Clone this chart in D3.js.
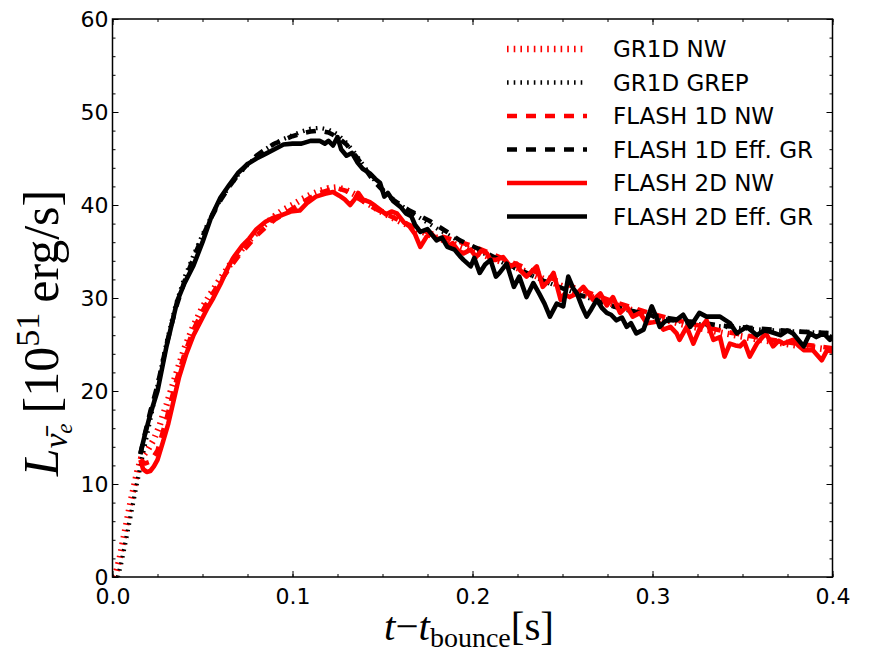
<!DOCTYPE html>
<html>
<head>
<meta charset="utf-8">
<script src="https://cdn.jsdelivr.net/npm/d3@7"></script>
<style>
body { margin: 0; background: #fff; }
svg { display: block; }
</style>
</head>
<body>
<div id="chart"></div>
<script>
// luminosity curves, [t - t_bounce (s), L (10^51 erg/s)]
var gr1dNW = [[0.001,0],[0.002,0.5],[0.004,2],[0.006,4],[0.008,6],[0.010,8],[0.012,9.8],[0.014,11.5],[0.016,12.8],[0.018,13.3],[0.020,13.8],[0.023,14.8],[0.026,16.2],[0.030,18.5],[0.035,21.6],[0.040,24.6],[0.045,27],[0.050,29],[0.055,30.6],[0.060,32.1],[0.065,33.5],[0.070,34.8],[0.075,36],[0.080,37],[0.085,38],[0.090,38.8],[0.095,39.5],[0.100,40],[0.105,40.6],[0.110,41.1],[0.115,41.5],[0.120,41.8],[0.125,41.9],[0.130,41.6],[0.135,41.1],[0.140,40.4],[0.145,39.8],[0.150,39.2],[0.160,38.2],[0.170,37.3],[0.180,36.5],[0.190,35.8],[0.200,35.1],[0.220,33.6],[0.240,32],[0.260,30.5],[0.280,29.2],[0.300,28],[0.320,27],[0.340,26.2],[0.360,25.5],[0.380,24.9],[0.400,24.4]];

var gr1dGREP = [[0.003,0],[0.005,1.6],[0.007,3.5],[0.009,5.5],[0.011,7.5],[0.013,9.5],[0.015,11.4],[0.017,13.3],[0.020,16],[0.025,20.6],[0.030,25.2],[0.035,29.2],[0.040,32.2],[0.045,34.6],[0.050,36.8],[0.055,38.8],[0.060,40.6],[0.065,42],[0.070,43.3],[0.075,44.3],[0.080,45.2],[0.085,46],[0.090,46.6],[0.095,47.1],[0.100,47.5],[0.105,47.9],[0.110,48.2],[0.115,48.3],[0.120,48.1],[0.125,47.6],[0.130,46.7],[0.135,45.5],[0.140,44.1],[0.145,42.8],[0.150,41.7],[0.155,40.8],[0.160,40],[0.170,38.7],[0.180,37.5],[0.190,36.4],[0.200,35.4],[0.220,33.5],[0.240,31.8],[0.260,30.3],[0.280,29],[0.300,28],[0.320,27.3],[0.340,26.9],[0.360,26.6],[0.380,26.4],[0.400,26.2]];

var flash1dNW = [[0.0155,12.6],[0.018,12.2],[0.021,12.4],[0.025,13.6],[0.030,17],[0.035,20.8],[0.040,24],[0.045,26.6],[0.050,28.6],[0.055,30.3],[0.060,31.8],[0.065,33.2],[0.070,34.5],[0.075,35.6],[0.080,36.7],[0.085,37.6],[0.090,38.4],[0.095,39],[0.100,39.6],[0.105,40.2],[0.110,40.8],[0.115,41.3],[0.120,41.6],[0.125,41.8],[0.130,41.5],[0.135,40.9],[0.140,40.3],[0.145,39.7],[0.150,39.2],[0.160,38.3],[0.170,37.4],[0.180,36.8],[0.190,36.2],[0.200,35.6],[0.210,34.8],[0.220,34],[0.240,32.4],[0.260,30.9],[0.280,29.5],[0.300,28.3],[0.320,27.3],[0.340,26.4],[0.360,25.7],[0.380,25.1],[0.400,24.6]];

var flash1dGR = [[0.0155,13.2],[0.018,15.4],[0.021,17.8],[0.025,20.6],[0.030,25],[0.035,28.8],[0.040,31.8],[0.045,34.3],[0.050,36.6],[0.055,38.7],[0.060,40.5],[0.065,42],[0.070,43.3],[0.075,44.4],[0.080,45.3],[0.085,46],[0.090,46.6],[0.095,47],[0.100,47.4],[0.105,47.7],[0.110,47.9],[0.115,48],[0.120,47.8],[0.125,47.3],[0.130,46.5],[0.135,45.3],[0.140,44],[0.145,42.6],[0.150,41.6],[0.155,40.7],[0.160,40],[0.165,39.4],[0.170,38.9],[0.176,38.3],[0.186,37.1],[0.193,36.2],[0.202,35.4],[0.210,34.6],[0.220,33.6],[0.240,31.8],[0.260,30.3],[0.280,29],[0.300,28.1],[0.320,27.5],[0.340,27],[0.360,26.7],[0.380,26.4],[0.400,26.2]];

var flash2dNW = [[0.0155,12.6],[0.017,11.6],[0.019,11.3],[0.021,11.4],[0.023,11.9],[0.025,12.6],[0.028,14.5],[0.031,16.5],[0.034,19],[0.037,21.5],[0.041,24],[0.045,26],[0.049,27.5],[0.053,29],[0.056,30],[0.060,31.5],[0.064,33.2],[0.067,34.3],[0.072,35.6],[0.076,36.4],[0.080,37.4],[0.085,38.2],[0.089,38.6],[0.094,38.9],[0.099,39.3],[0.104,39.4],[0.108,40.2],[0.113,40.9],[0.118,41.2],[0.1225,41.4],[0.126,41.0],[0.129,40.6],[0.132,40.0],[0.1345,40.6],[0.1365,41.3],[0.139,40.6],[0.143,40.3],[0.146,39.9],[0.1486,39.5],[0.152,39.0],[0.155,39.3],[0.158,39.1],[0.162,38.1],[0.165,37.7],[0.168,36.9],[0.171,35.5],[0.1745,36.6],[0.177,36.9],[0.180,36.4],[0.184,36.3],[0.187,35.6],[0.189,35.9],[0.192,35.1],[0.195,34.8],[0.199,35.2],[0.202,34.4],[0.205,35.1],[0.208,34.8],[0.210,34.1],[0.213,34.1],[0.217,34.4],[0.221,33.4],[0.2245,33.7],[0.2264,33.0],[0.230,32.3],[0.2357,33.4],[0.239,31.2],[0.242,31.8],[0.245,32.7],[0.249,29.8],[0.251,30.4],[0.254,30.1],[0.258,30.5],[0.2616,31.2],[0.264,30.6],[0.267,29.8],[0.271,30.5],[0.2746,29.2],[0.278,30.1],[0.282,28.4],[0.2857,29.1],[0.289,28.0],[0.293,28.4],[0.2968,27.3],[0.3004,27.4],[0.303,27.5],[0.306,26.6],[0.310,26.9],[0.3134,26.2],[0.315,25.5],[0.319,26.9],[0.3227,25.1],[0.326,26.6],[0.330,27.6],[0.3338,25.5],[0.3375,25.8],[0.340,23.7],[0.343,25.1],[0.346,24.9],[0.3486,24.8],[0.351,25.3],[0.354,23.7],[0.358,25.1],[0.363,26.2],[0.367,24.8],[0.370,25.4],[0.3727,25.1],[0.378,25.5],[0.381,24.9],[0.384,24.4],[0.389,24.4],[0.394,23.3],[0.397,24.4],[0.400,24.2]];

var flash2dGR = [[0.0155,13.3],[0.018,15.3],[0.021,17.5],[0.025,20],[0.030,24.8],[0.036,29.7],[0.040,31.6],[0.045,33.5],[0.050,36],[0.055,38.8],[0.060,40.8],[0.065,42.2],[0.070,43.5],[0.075,44.4],[0.080,45],[0.085,45.5],[0.090,46.0],[0.095,46.5],[0.100,46.6],[0.105,46.6],[0.110,46.9],[0.115,46.9],[0.118,46.6],[0.120,46.9],[0.1225,46.4],[0.125,47.3],[0.127,46.0],[0.130,45.3],[0.133,45.6],[0.136,44.6],[0.139,43.9],[0.143,43.4],[0.146,42.8],[0.1486,42.4],[0.151,40.9],[0.153,41.3],[0.156,40.4],[0.160,39.8],[0.163,39.1],[0.166,38.8],[0.168,37.9],[0.171,37.1],[0.175,37.4],[0.180,36.2],[0.183,36.5],[0.186,35.5],[0.190,35.2],[0.193,34.5],[0.195,34.1],[0.199,33.4],[0.201,34.3],[0.204,32.7],[0.207,33.6],[0.210,34.1],[0.213,32.3],[0.215,32.7],[0.219,33.7],[0.223,31.2],[0.226,32.3],[0.230,30.1],[0.2338,31.6],[0.237,30.5],[0.240,29.4],[0.243,28.0],[0.2468,29.4],[0.2504,29.1],[0.2532,32.3],[0.256,31.0],[0.258,30.5],[0.261,29.0],[0.2634,28.0],[0.266,28.8],[0.269,29.8],[0.272,28.9],[0.2746,28.4],[0.277,28.2],[0.280,27.6],[0.283,27.9],[0.2857,26.9],[0.288,27.3],[0.291,26.2],[0.295,26.6],[0.2996,29.1],[0.302,28.0],[0.304,26.9],[0.307,27.5],[0.310,27.6],[0.313,27.6],[0.317,28.2],[0.321,26.9],[0.326,28.4],[0.330,28.0],[0.3375,28.0],[0.343,27.3],[0.3468,26.2],[0.3523,26.9],[0.358,26.0],[0.362,26.5],[0.365,26.4],[0.371,26.0],[0.375,26.5],[0.378,26.2],[0.384,24.8],[0.3875,26.2],[0.391,25.8],[0.395,26.2],[0.3986,25.5],[0.400,26.0]];

var seriesNames = ["GR1D NW", "GR1D GREP", "FLASH 1D NW", "FLASH 1D Eff. GR", "FLASH 2D NW", "FLASH 2D Eff. GR"];
var xTicks = [0.0, 0.1, 0.2, 0.3, 0.4];
var yTicks = [0, 10, 20, 30, 40, 50, 60];

var width = 869, height = 653;
var plotLeft = 112.5, plotRight = 832.5, plotTop = 19, plotBottom = 577;

var svg = d3.select("#chart").append("svg")
  .attr("width", width)
  .attr("height", height);

var x = d3.scaleLinear().domain([0, 0.4]).range([plotLeft, plotRight]);
var y = d3.scaleLinear().domain([0, 60]).range([plotBottom, plotTop]);

svg.append("clipPath").attr("id", "clip")
  .append("rect")
    .attr("x", plotLeft).attr("y", plotTop)
    .attr("width", plotRight - plotLeft).attr("height", plotBottom - plotTop);

// line styles
var styles = [
  { data: gr1dNW,    color: "#ff0000", w: 6.5, dash: "1.6,5.1" },
  { data: gr1dGREP,  color: "#000000", w: 4.3, dash: "1.6,5.1" },
  { data: flash1dNW, color: "#ff0000", w: 4.6, dash: "10,9" },
  { data: flash1dGR, color: "#000000", w: 4.6, dash: "10,9" },
  { data: flash2dNW, color: "#ff0000", w: 4.6, dash: null },
  { data: flash2dGR, color: "#000000", w: 4.6, dash: null }
];

var line = d3.line()
  .x(function(d){ return x(d[0]); })
  .y(function(d){ return y(d[1]); });

var plot = svg.append("g").attr("clip-path", "url(#clip)");
styles.forEach(function(s){
  plot.append("path")
    .datum(s.data)
    .attr("d", line)
    .attr("fill", "none")
    .attr("stroke", s.color)
    .attr("stroke-width", s.w)
    .attr("stroke-dasharray", s.dash)
    .attr("stroke-linejoin", "round");
});

// axes, ticks inside on all four sides
var tickFont = "'DejaVu Sans', sans-serif";
var minorX = d3.range(0, 17).map(function(i){ return i * 0.025; });
var minorY = d3.range(0, 31).map(function(i){ return i * 2; });

function styleAxis(g){
  g.select(".domain").remove();
  g.selectAll("line").attr("stroke", "#000").attr("stroke-width", 1);
  g.selectAll("text").attr("font-family", tickFont).attr("font-size", 22).attr("fill", "#000");
}

svg.append("g").attr("transform", "translate(0," + plotBottom + ")")
  .call(d3.axisBottom(x).tickValues(minorX).tickSize(-3).tickFormat(""))
  .call(styleAxis);
svg.append("g").attr("transform", "translate(0," + plotBottom + ")")
  .call(d3.axisBottom(x).tickValues(xTicks).tickSize(-6).tickPadding(11).tickFormat(d3.format(".1f")))
  .call(styleAxis);
svg.append("g").attr("transform", "translate(0," + plotTop + ")")
  .call(d3.axisTop(x).tickValues(minorX).tickSize(-3).tickFormat(""))
  .call(styleAxis);
svg.append("g").attr("transform", "translate(0," + plotTop + ")")
  .call(d3.axisTop(x).tickValues(xTicks).tickSize(-6).tickFormat(""))
  .call(styleAxis);

svg.append("g").attr("transform", "translate(" + plotLeft + ",0)")
  .call(d3.axisLeft(y).tickValues(minorY).tickSize(-3).tickFormat(""))
  .call(styleAxis);
svg.append("g").attr("transform", "translate(" + plotLeft + ",0)")
  .call(d3.axisLeft(y).tickValues(yTicks).tickSize(-6).tickPadding(4).tickFormat(d3.format("d")))
  .call(styleAxis);
svg.append("g").attr("transform", "translate(" + plotRight + ",0)")
  .call(d3.axisRight(y).tickValues(minorY).tickSize(-3).tickFormat(""))
  .call(styleAxis);
svg.append("g").attr("transform", "translate(" + plotRight + ",0)")
  .call(d3.axisRight(y).tickValues(yTicks).tickSize(-6).tickFormat(""))
  .call(styleAxis);

svg.append("rect")
  .attr("x", plotLeft).attr("y", plotTop)
  .attr("width", plotRight - plotLeft).attr("height", plotBottom - plotTop)
  .attr("fill", "none").attr("stroke", "#000").attr("stroke-width", 1.5);

// legend
var legend = svg.append("g").attr("transform", "translate(507,49)");
seriesNames.forEach(function(name, i){
  var s = styles[i];
  var row = legend.append("g").attr("transform", "translate(0," + (i * 33.5) + ")");
  row.append("line")
    .attr("x1", 0).attr("x2", 80)
    .attr("stroke", s.color)
    .attr("stroke-width", s.w)
    .attr("stroke-dasharray", s.dash);
  row.append("text")
    .attr("x", 106).attr("y", 8)
    .attr("font-family", tickFont).attr("font-size", 23)
    .text(name);
});

// axis labels
var mathFont = "'Liberation Serif', 'DejaVu Serif', serif";
var xl = svg.append("text")
  .attr("x", 469).attr("y", 640)
  .attr("text-anchor", "middle")
  .attr("font-family", mathFont).attr("font-size", 41);
xl.append("tspan").attr("font-style", "italic").text("t");
xl.append("tspan").text("\u2212");
xl.append("tspan").attr("font-style", "italic").text("t");
xl.append("tspan").attr("font-size", 28).attr("dy", 7).text("bounce");
xl.append("tspan").attr("dy", -7).text("[s]");

var yl = svg.append("text")
  .attr("transform", "translate(58,333) rotate(-90)")
  .attr("text-anchor", "middle")
  .attr("font-family", mathFont).attr("font-size", 50);
yl.append("tspan").attr("font-style", "italic").text("L");
yl.append("tspan").attr("font-style", "italic").attr("font-size", 33).attr("dy", 9).text("\u03BD\u0304");
yl.append("tspan").attr("font-style", "italic").attr("font-size", 23).attr("dy", 5).text("e");
yl.append("tspan").attr("dy", -14).text("\u2009[10");
yl.append("tspan").attr("font-size", 34).attr("dy", -19).text("51");
yl.append("tspan").attr("dy", 19).text("\u2009erg/s]");
</script>
</body>
</html>
